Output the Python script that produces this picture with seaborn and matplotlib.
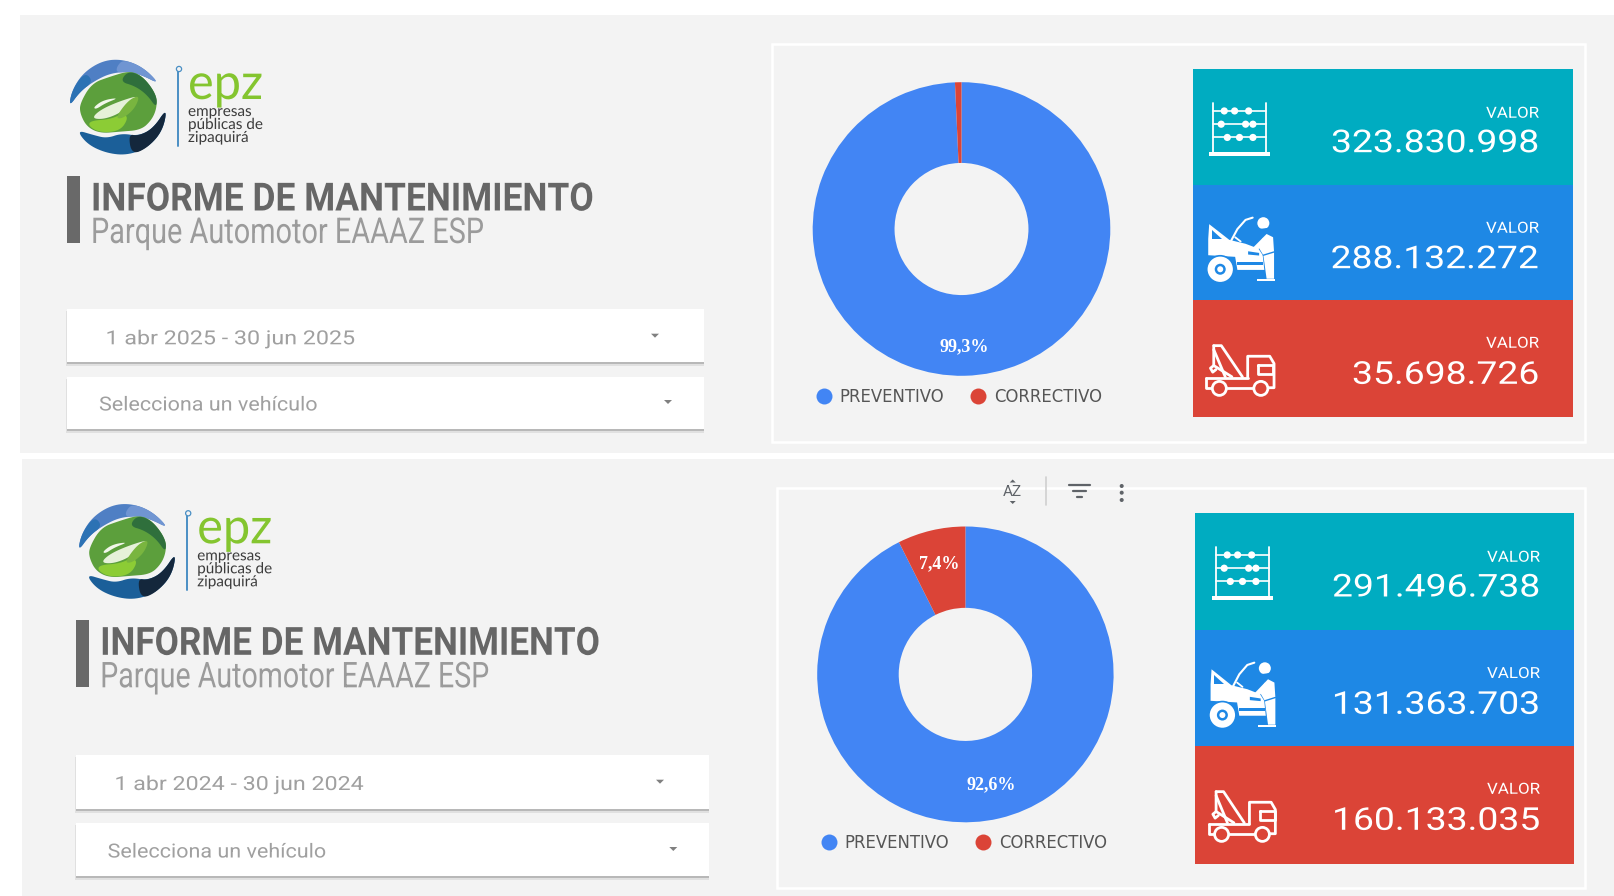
import numpy as np
import matplotlib
matplotlib.use("Agg")
import matplotlib.pyplot as plt
from matplotlib.lines import Line2D
from matplotlib.patches import Rectangle, Circle, Polygon
from matplotlib.patheffects import AbstractPathEffect
from matplotlib.transforms import Affine2D
import seaborn as sns

# ---------- data ----------
categories = ["PREVENTIVO", "CORRECTIVO"]
shares_top = [99.3, 0.7]
shares_bottom = [92.6, 7.4]
card_values_top = [323830998, 288132272, 35698726]
card_values_bottom = [291496738, 131363703, 160133035]
card_label = "VALOR"
dates_top = "1 abr 2025 - 30 jun 2025"
dates_bottom = "1 abr 2024 - 30 jun 2024"
selector_label = "Selecciona un vehículo"
title_text = "INFORME DE MANTENIMIENTO"
subtitle_text = "Parque Automotor EAAAZ ESP"

# ---------- style ----------
sns.set_theme(style="white")
W, H = 1614, 896
PANEL = "#F3F3F3"
donut_colors = sns.color_palette(["#4285F4", "#DB4437"])
card_colors = ["#00ACC1", "#1E88E5", "#DB4437"]
plt.rcParams["font.family"] = ["Roboto", "DejaVu Sans"]

fig = plt.figure(figsize=(W / 100, H / 100), dpi=100, facecolor="white")
bg = fig.add_axes([0, 0, 1, 1])
bg.set_xlim(0, W)
bg.set_ylim(H, 0)
bg.set_axis_off()
renderer = fig.canvas.get_renderer()


class StretchX(AbstractPathEffect):
    """Scale a text horizontally around a fixed x position (in pixels)."""

    def __init__(self, factor, anchor):
        super().__init__()
        self.factor, self.anchor = factor, anchor

    def draw_path(self, rend, gc, tpath, affine, rgbFace=None):
        t = affine + Affine2D().translate(-self.anchor, 0).scale(self.factor, 1).translate(self.anchor, 0)
        rend.draw_path(gc, tpath, t, rgbFace)


def fit_text(x, y, s, width=None, factor=None, **kw):
    t = bg.text(x, y, s, va="center", **kw)
    if factor is None:
        factor = width / t.get_window_extent(renderer).width
    t.set_path_effects([StretchX(factor, x)])
    return t


def natural_factor(s, width, **kw):
    t = bg.text(0, 0, s, **kw)
    f = width / t.get_window_extent(renderer).width
    t.remove()
    return f


def rect(x0, y0, x1, y1, **kw):
    kw.setdefault("linewidth", 0)
    bg.add_patch(Rectangle((x0, y0), x1 - x0, y1 - y0, **kw))


def smooth(pts, n=3):
    p = np.asarray(pts, float)
    for _ in range(n):
        q = np.roll(p, -1, axis=0)
        p = np.c_[0.75 * p + 0.25 * q, 0.25 * p + 0.75 * q].reshape(-1, 2)
    return p


def crop_poly(pts, ox, oy, dx, dy, color, z=3):
    xy = smooth(pts) / 3 + (ox + dx, oy + dy)
    bg.add_patch(Polygon(xy, closed=True, facecolor=color, edgecolor="none", zorder=z))


def logo(dx, dy):
    ox, oy = 60, 50
    top_outer = [(300, 103), (250, 52), (190, 28), (130, 31), (72, 66), (37, 118), (26, 172)]
    top_inner = [(60, 125), (100, 95), (150, 70), (205, 65), (245, 75)]
    crop_poly(top_outer + top_inner, ox, oy, dx, dy, "#4f7fc4")
    crop_poly([(300, 103), (250, 52), (190, 28), (170, 50), (170, 68), (205, 65), (245, 75)], ox, oy, dx, dy, "#7095d2", 4)
    crop_poly([(75, 66), (37, 118), (26, 172), (60, 125), (100, 95)], ox, oy, dx, dy, "#2c72b4", 4)
    bot_outer = [(322, 172), (308, 243), (262, 294), (200, 316), (138, 309), (82, 283), (50, 240)]
    bot_inner = [(100, 255), (140, 265), (185, 250), (235, 258), (280, 235)]
    crop_poly(bot_outer + bot_inner, ox, oy, dx, dy, "#1b5f99")
    crop_poly([(322, 172), (308, 243), (262, 294), (215, 314), (205, 252), (235, 258), (280, 235)], ox, oy, dx, dy, "#14273c", 4)
    disc = [(60, 160), (95, 100), (150, 80), (210, 62), (250, 80), (290, 135), (290, 175), (275, 210),
            (243, 240), (180, 245), (120, 250), (80, 230), (60, 190)]
    crop_poly(disc, ox, oy, dx, dy, "#5c9f3c", 4)
    crop_poly([(205, 62), (250, 80), (290, 135), (290, 175), (262, 135), (225, 108), (180, 95)], ox, oy, dx, dy, "#2f6f3c", 5)
    crop_poly([(92, 212), (150, 208), (190, 190), (205, 205), (180, 243), (120, 248), (85, 228)], ox, oy, dx, dy, "#8ccc35", 5)
    crop_poly([(95, 205), (120, 180), (175, 155), (240, 135), (210, 165), (175, 192), (130, 208)], ox, oy, dx, dy, "#e6f1d9", 5)
    crop_poly([(205, 150), (240, 135), (225, 175), (190, 205), (165, 205)], ox, oy, dx, dy, "#79b53f", 6)
    crop_poly([(100, 172), (130, 150), (178, 143), (135, 160), (108, 178)], ox, oy, dx, dy, "#f2f7ea", 6)
    bg.plot([178 + dx, 178 + dx], [68 + dy, 146 + dy], color="#4a8fc4", lw=1.4, zorder=3)
    bg.add_patch(Circle((179 + dx, 69 + dy), 2.6, facecolor=PANEL, edgecolor="#4a8fc4", lw=0.9, zorder=4))
    fit_text(188 + dx, 85 + dy, "epz", width=75, color="#84c52f", fontsize=36, ha="left", family="Lato")
    for txt, y in [("empresas", 112), ("públicas de", 125), ("zipaquirá", 138)]:
        fit_text(188 + dx, y + dy, txt, factor=1.0, color="#3c3c3c", fontsize=11, ha="left", family="Lato")


def dropdown(x0, y0, x1, y1, label, tx, ty, ax_, ay, width):
    rect(x0 - 0.5, y0 + 2, x1 + 0.5, y1 + 4, facecolor="#e0e0e0", zorder=2)
    rect(x0, y0 + 2, x1, y1 + 2.5, facecolor="#b8b8b8", zorder=2)
    rect(x0, y0, x1, y1, facecolor="white", zorder=3)
    fit_text(tx, ty, label, width=width, color="#a0a0a0", fontsize=14, ha="left", zorder=4)
    bg.add_patch(Polygon([(ax_ - 4, ay - 2), (ax_ + 4, ay - 2), (ax_, ay + 2)], closed=True,
                         facecolor="#808080", edgecolor="none", zorder=4))


def abacus(x0, y0, x1, y1):
    U = lambda u: x0 + u * (x1 - x0)
    V = lambda v: y0 + v * (y1 - y0)
    for u in (0.06, 0.94):
        bg.plot([U(u), U(u)], [V(0), V(0.93)], color="white", lw=1.3, zorder=5)
    rect(U(0), V(0.92), U(1), V(1), facecolor="white", zorder=5)
    rows = [(0.15, (0.25, 0.42, 0.65)), (0.40, (0.2, 0.6, 0.72)), (0.65, (0.3, 0.5, 0.72))]
    for v, beads in rows:
        bg.plot([U(0.06), U(0.94)], [V(v), V(v)], color="white", lw=1.2, zorder=5)
        for u in beads:
            bg.add_patch(Circle((U(u), V(v)), 3.6, facecolor="white", edgecolor="none", zorder=6))


def mechanic(x0, y0, x1, y1, col):
    sx, sy = (x1 - x0) / 210, (y1 - y0) / 202
    P = lambda pts: [(x0 + (a - 30) * sx, y0 + (b - 30) * sy) for a, b in pts]
    poly = lambda pts, c, z: bg.add_patch(Polygon(P(pts), closed=True, facecolor=c, edgecolor="none", zorder=z))
    poly([(35, 100), (38, 55), (100, 103), (150, 115), (190, 130), (203, 150), (208, 195), (125, 195),
          (118, 155), (35, 150)], "white", 5)
    poly([(47, 72), (47, 100), (76, 100)], col, 6)
    poly([(158, 138), (192, 143), (192, 151), (158, 148)], col, 6)
    poly([(125, 172), (205, 172), (205, 180), (125, 180)], col, 6)
    bg.plot(*zip(*P([(106, 105), (125, 70), (150, 42), (172, 35)])), color="white", lw=1.5, zorder=5)
    bg.plot(*zip(*P([(118, 95), (135, 108)])), color="white", lw=1.3, zorder=5)
    c = P([(72, 193)])[0]
    bg.add_patch(Circle(c, 13.5, facecolor="white", edgecolor=col, lw=1.2, zorder=7))
    bg.add_patch(Circle(c, 5.5, facecolor=col, edgecolor="none", zorder=8))
    bg.add_patch(Circle(c, 3, facecolor="white", edgecolor="none", zorder=9))
    bg.add_patch(Circle(P([(205, 52)])[0], 6, facecolor="white", edgecolor="none", zorder=7))
    poly([(190, 70), (222, 66), (222, 72), (190, 75)], col, 8)
    poly([(215, 85), (235, 95), (238, 140), (238, 222), (215, 222), (205, 150), (188, 122), (205, 95)], "white", 7)
    bg.plot(*zip(*P([(205, 150), (238, 140)])), color=col, lw=1.0, zorder=8)
    poly([(185, 222), (240, 222), (240, 230), (185, 230)], "white", 7)
    poly([(170, 130), (205, 95), (210, 115), (185, 135)], "white", 7)


def truck(x0, y0, x1, y1, col):
    sx, sy = (x1 - x0) / 210, (y1 - y0) / 160
    P = lambda pts: [(x0 + (a - 30) * sx, y0 + (b - 410) * sy) for a, b in pts]
    kw = dict(color="white", lw=2.0, zorder=6, solid_capstyle="round", solid_joinstyle="round")
    line = lambda pts: bg.plot(*zip(*P(pts)), **kw)
    line([(55, 418), (78, 418), (142, 512)])
    line([(55, 418), (55, 478), (110, 512)])
    line([(55, 430), (90, 512)])
    line([(55, 478), (45, 486), (52, 498), (62, 490)])
    line([(158, 515), (158, 450), (225, 450), (238, 472), (238, 545), (222, 545)])
    line([(190, 476), (236, 476), (236, 505), (190, 505), (190, 476)])
    line([(32, 515), (158, 515)])
    line([(32, 515), (32, 545), (48, 545)])
    line([(96, 545), (174, 545)])
    for a in (72, 198):
        bg.add_patch(Circle(P([(a, 547)])[0], 7, facecolor=col, edgecolor="white", lw=2.0, zorder=7))


def donut(cx, cy, rx, ry, shares, pct_r):
    ax = fig.add_axes([(cx - rx) / W, 1 - (cy + ry) / H, 2 * rx / W, 2 * ry / H])
    ax.patch.set_alpha(0)
    ax.pie(shares, colors=donut_colors, startangle=90, counterclock=False, radius=1,
           wedgeprops=dict(width=0.55, edgecolor="none"), pctdistance=pct_r,
           autopct=lambda p: f"{p:.1f}%".replace(".", ",") if p >= 1 else "",
           textprops=dict(color="white", fontsize=13, fontweight="bold", family="Liberation Serif"))
    ax.set_aspect("auto")
    ax.set_xlim(-1, 1)
    ax.set_ylim(-1, 1)
    ax.set_axis_off()


def legend_row(x, y):
    handles = [Line2D([], [], marker="o", linestyle="none", markersize=11.5, color=c, markeredgewidth=0)
               for c in donut_colors]
    return bg.legend(handles, categories, loc="center left", bbox_to_anchor=(x, y),
                     bbox_transform=bg.transData, ncol=2, frameon=False,
                     prop=dict(family="DejaVu Sans", size=11.9),
                     handlelength=1.0, handletextpad=0.44, columnspacing=1.54, borderpad=0,
                     borderaxespad=0, labelcolor="#555555")


val_factor = natural_factor("323.830.998", 208, fontsize=22.7)
lab_factor = natural_factor(card_label, 53, fontsize=11)


def panel(ox, oy, px0, py0, py1, box, cx, cy, rx, ry, shares, pct_r, values, dates, drops,
          card_x, card_y, icons, val_x, text_ys, title_w, sub_w):
    rect(px0, py0, W, py1, facecolor=PANEL, zorder=0)
    bx0, by0, bx1, by1 = box
    rect(bx0, by0, bx1, by1, facecolor="none", edgecolor="white", linewidth=1.8, zorder=1)
    logo(ox, oy)
    rect(66.5 + ox, 176 + oy, 80 + ox, 243 + oy, facecolor="#696969", zorder=3)
    fit_text(91 + ox, 200 + oy, title_text, width=title_w, color="#666666", fontsize=28, fontweight="bold", ha="left")
    fit_text(91 + ox, 233 + oy, subtitle_text, width=sub_w, color="#9b9b9b", fontsize=25.6, ha="left")
    dropdown(*drops[0], dates, *drops[1])
    dropdown(*drops[2], selector_label, *drops[3])
    x0, x1 = card_x
    for i, (v, c) in enumerate(zip(values, card_colors)):
        rect(x0, card_y[i], x1, card_y[i + 1], facecolor=c, zorder=2)
        fit_text(val_x, text_ys[i][0] + 1, card_label, factor=lab_factor, color="white", fontsize=11, ha="right", zorder=6)
        fit_text(val_x, text_ys[i][1] + 2, f"{v:,}".replace(",", "."), factor=val_factor, color="white",
                 fontsize=22.7, ha="right", zorder=6)
    abacus(*icons[0])
    mechanic(*icons[1], card_colors[1])
    truck(*icons[2], card_colors[2])
    donut(cx, cy, rx, ry, shares, pct_r)


panel(0, 0, 20, 15.5, 453, (772, 44, 1585, 442), 961.5, 229, 148.8, 146.8, shares_top, 0.805,
      card_values_top, dates_top,
      [(66.5, 309, 703.5, 362), (105.5, 339.3, 655, 335.7, 251), (66.5, 377, 703.5, 429), (99, 405.5, 668, 402, 220)],
      (1192.5, 1573), [69, 185, 300, 417],
      [(1209, 103, 1270, 156), (1206.6, 216, 1274.7, 282), (1205.5, 343, 1274.7, 396)],
      1539, [(112.7, 141.7), (227.7, 257.7), (342.7, 373.3)], 503, 392)
panel(9.2, 444.3, 21.5, 459, 896, (777.4, 488, 1585, 888), 965.4, 674.4, 148.2, 147.9, shares_bottom, 0.77,
      card_values_bottom, dates_bottom,
      [(75.6, 755.3, 708.7, 809), (114.4, 785, 660, 781.7, 251), (75.6, 823, 708.7, 875.7), (107.6, 852.5, 673.3, 849, 220)],
      (1195.2, 1573.7), [513.3, 630, 745.7, 864],
      [(1212, 547, 1273, 600), (1209, 661, 1276, 728), (1208, 789, 1276, 842)],
      1540, [(556.7, 586), (673, 703.3), (788.7, 819.3)], 500, 388)

# legends (one per donut): the first is kept as an extra artist
leg1 = legend_row(816, 396.5)
bg.add_artist(leg1)
legend_row(821, 842.8)

# chart toolbar over the lower panel
bg.text(1012.7, 491.7, "AZ", color="#5f6368", fontsize=11, ha="center", va="center", zorder=6)
for y, s in [(480.5, 1), (503, -1)]:
    bg.add_patch(Polygon([(1009.7, y + 2 * s), (1015.7, y + 2 * s), (1012.7, y - 1 * s)], closed=True,
                         facecolor="#5f6368", edgecolor="none", zorder=6))
bg.plot([1046, 1046], [477, 505], color="#cfcfcf", lw=1.2, zorder=6)
for y, a, b in [(485, 1069, 1090), (490.7, 1073, 1086), (496.7, 1077, 1082)]:
    bg.plot([a, b], [y, y], color="#5f6368", lw=1.6, zorder=6)
for y in (486, 492.7, 500):
    bg.add_patch(Circle((1121.7, y), 2, facecolor="#5f6368", edgecolor="none", zorder=6))

fig.savefig("out.png", dpi=100, facecolor="white")
